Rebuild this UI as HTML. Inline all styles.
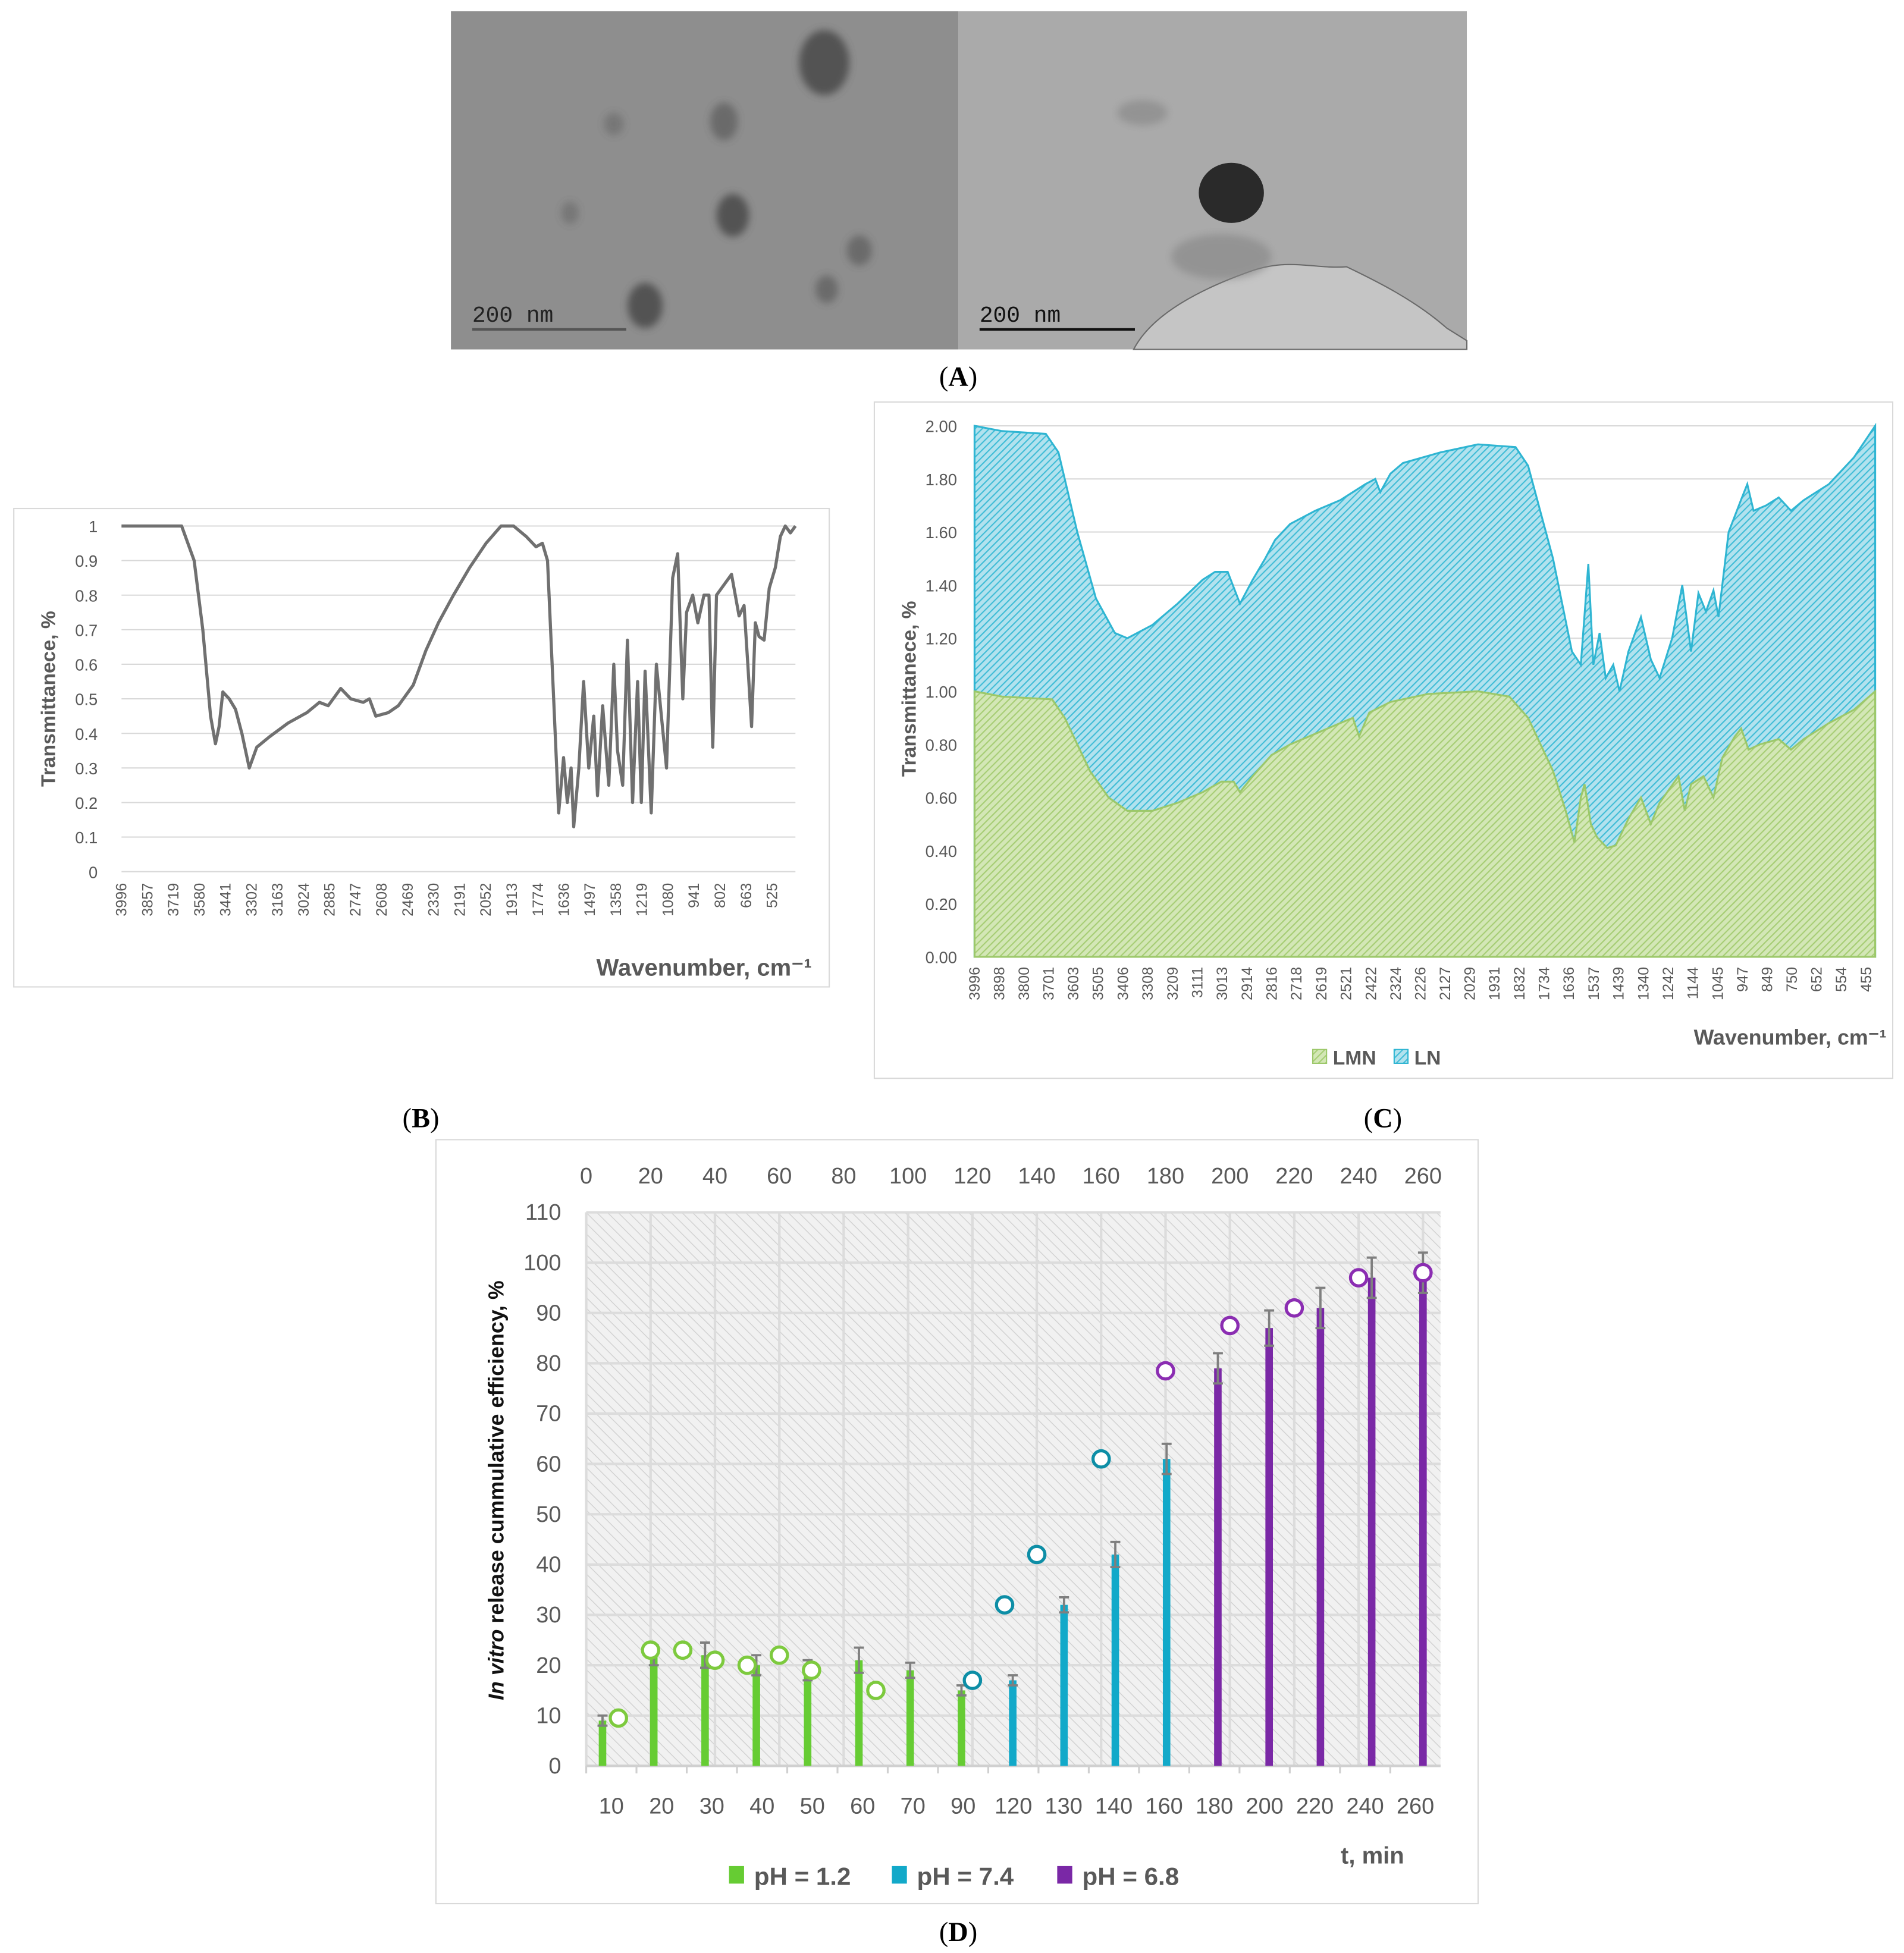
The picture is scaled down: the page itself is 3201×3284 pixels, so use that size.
<!DOCTYPE html>
<html><head><meta charset="utf-8"><style>
html,body{margin:0;padding:0;background:#fff;}
svg{display:block;}
</style></head><body>
<svg id="fig" width="3201" height="3284" viewBox="0 0 1520 1559.4" preserveAspectRatio="none" xmlns="http://www.w3.org/2000/svg" font-family="Liberation Sans, sans-serif">
<defs>
<pattern id="hatchG" width="4" height="4" patternUnits="userSpaceOnUse" patternTransform="rotate(45)"><rect width="4" height="4" fill="#d3e7b6"/><line x1="0" y1="0" x2="0" y2="4" stroke="#a6cd74" stroke-width="2"/></pattern>
<pattern id="hatchB" width="4" height="4" patternUnits="userSpaceOnUse" patternTransform="rotate(45)"><rect width="4" height="4" fill="#b2e2ee"/><line x1="0" y1="0" x2="0" y2="4" stroke="#3fbcd6" stroke-width="2"/></pattern>
<pattern id="hatchD" width="6" height="6" patternUnits="userSpaceOnUse" patternTransform="rotate(-45)"><rect width="6" height="6" fill="#f1f1f1"/><line x1="0" y1="0" x2="0" y2="6" stroke="#d2d2d2" stroke-width="1.4"/></pattern>
<filter id="blur3"><feGaussianBlur stdDeviation="3"/></filter>
</defs>

<!-- Panel A: TEM images -->
<g>
<rect x="360" y="9" width="405" height="270" fill="#8e8e8e"/>
<g filter="url(#blur3)" fill="#4a4a4a" opacity="0.85">
<ellipse cx="658" cy="50" rx="20" ry="26"/><ellipse cx="578" cy="97" rx="11" ry="15" opacity="0.6"/>
<ellipse cx="585" cy="172" rx="13" ry="17"/><ellipse cx="686" cy="200" rx="10" ry="12" opacity="0.6"/>
<ellipse cx="660" cy="231" rx="9" ry="11" opacity="0.6"/><ellipse cx="515" cy="244" rx="14" ry="18"/>
<ellipse cx="490" cy="99" rx="8" ry="9" opacity="0.4"/><ellipse cx="455" cy="170" rx="7" ry="9" opacity="0.4"/>
</g>
<line x1="377" y1="263" x2="500" y2="263" stroke="#555" stroke-width="2"/>
<text x="377" y="257" font-size="18" style="font-family:'Liberation Mono',monospace" fill="#222">200 nm</text>
<rect x="765" y="9" width="406" height="270" fill="#aaaaaa"/>
<path d="M905,279 C920,250 960,230 1000,216 C1030,206 1050,215 1075,213 C1100,225 1130,240 1155,262 L1171,272 L1171,279 Z" fill="#c5c5c5" stroke="#6a6a6a" stroke-width="1"/>
<g filter="url(#blur3)" fill="#8a8a8a" opacity="0.7"><ellipse cx="912" cy="90" rx="20" ry="10"/><ellipse cx="975" cy="205" rx="40" ry="18"/></g>
<ellipse cx="983" cy="154" rx="26" ry="24" fill="#2a2a2a"/>
<line x1="782" y1="263" x2="906" y2="263" stroke="#111" stroke-width="2"/>
<text x="782" y="257" font-size="18" style="font-family:'Liberation Mono',monospace" fill="#111">200 nm</text>
<text x="765" y="308" font-size="22" style="font-family:'Liberation Serif',serif" text-anchor="middle">(<tspan font-weight="bold">A</tspan>)</text>
</g>

<g id="panelB">
<rect x="11" y="406" width="651" height="382" fill="#fff" stroke="#d9d9d9"/>
</g>
<g id="panelC">
<rect x="698" y="321" width="813" height="540" fill="#fff" stroke="#d9d9d9"/>
</g>
<text x="336" y="900" font-size="22" style="font-family:'Liberation Serif',serif" text-anchor="middle">(<tspan font-weight="bold">B</tspan>)</text>
<text x="1104" y="900" font-size="22" style="font-family:'Liberation Serif',serif" text-anchor="middle">(<tspan font-weight="bold">C</tspan>)</text>

<g id="panelD">
<rect x="348" y="910" width="832" height="610" fill="#fff" stroke="#d9d9d9"/>
</g>
<text x="765" y="1550" font-size="22" style="font-family:'Liberation Serif',serif" text-anchor="middle">(<tspan font-weight="bold">D</tspan>)</text>
</svg>
<script>
const NS="http://www.w3.org/2000/svg";
function mk(parent,tag,attrs,txt){const e=document.createElementNS(NS,tag);for(const k in attrs)e.setAttribute(k,attrs[k]);if(txt!==undefined)e.textContent=txt;parent.appendChild(e);return e;}

// ---------- Chart B data ----------
const bWave=[3996,3775,3675,3608,3562,3521,3495,3475,3455,3421,3388,3354,3314,3274,3207,3107,3007,2940,2893,2826,2773,2706,2673,2639,2572,2519,2439,2372,2305,2225,2138,2051,1971,1904,1837,1784,1750,1723,1690,1663,1637,1617,1597,1583,1556,1530,1503,1476,1456,1429,1396,1369,1349,1322,1296,1269,1242,1222,1202,1169,1142,1115,1088,1055,1028,1001,981,948,921,888,861,841,821,781,741,701,674,654,634,614,594,567,540,507,480,454,427,400];
const bTrans=[1,1,1,0.9,0.7,0.45,0.37,0.42,0.52,0.5,0.47,0.4,0.3,0.36,0.39,0.43,0.46,0.49,0.48,0.53,0.5,0.49,0.5,0.45,0.46,0.48,0.54,0.64,0.72,0.8,0.88,0.95,1,1,0.97,0.94,0.95,0.9,0.5,0.17,0.33,0.2,0.3,0.13,0.3,0.55,0.3,0.45,0.22,0.48,0.25,0.6,0.35,0.25,0.67,0.2,0.55,0.2,0.58,0.17,0.6,0.45,0.3,0.85,0.92,0.5,0.75,0.8,0.72,0.8,0.8,0.36,0.8,0.83,0.86,0.74,0.77,0.6,0.42,0.72,0.68,0.67,0.82,0.88,0.97,1,0.98,1];
const bYTicks=[0,0.1,0.2,0.3,0.4,0.5,0.6,0.7,0.8,0.9,1];
const bXLabels=["3996","3857","3719","3580","3441","3302","3163","3024","2885","2747","2608","2469","2330","2191","2052","1913","1774","1636","1497","1358","1219","1080","941","802","663","525"];

// ---------- Chart C data ----------
const cLowWave=[3996,3887,3688,3638,3538,3464,3389,3290,3190,3091,3016,2967,2942,2892,2817,2743,2643,2544,2494,2469,2429,2345,2196,1997,1873,1798,1699,1649,1614,1589,1574,1549,1524,1484,1450,1400,1350,1311,1276,1201,1176,1151,1102,1062,1027,977,952,923,878,803,754,704,604,505,420];
const cLMN=[1.0,0.98,0.97,0.9,0.7,0.6,0.55,0.55,0.58,0.62,0.66,0.66,0.62,0.68,0.76,0.8,0.84,0.88,0.9,0.83,0.92,0.96,0.99,1.0,0.98,0.9,0.7,0.55,0.43,0.6,0.65,0.5,0.45,0.41,0.42,0.52,0.6,0.5,0.58,0.68,0.55,0.65,0.68,0.6,0.75,0.83,0.86,0.78,0.8,0.82,0.78,0.82,0.88,0.93,1.0];
const cTopWave=[3996,3887,3713,3663,3588,3514,3439,3389,3290,3190,3091,3041,2991,2942,2892,2842,2803,2743,2643,2544,2444,2405,2385,2345,2295,2146,1997,1848,1798,1699,1624,1589,1559,1539,1514,1490,1460,1435,1400,1350,1311,1276,1226,1186,1151,1122,1092,1062,1042,1002,953,928,903,853,803,754,704,604,505,420];
const cTotal=[2.0,1.98,1.97,1.9,1.6,1.35,1.22,1.2,1.25,1.33,1.42,1.45,1.45,1.33,1.42,1.5,1.57,1.63,1.68,1.72,1.78,1.8,1.75,1.82,1.86,1.9,1.93,1.92,1.85,1.5,1.15,1.1,1.48,1.1,1.22,1.05,1.1,1.0,1.15,1.28,1.12,1.05,1.2,1.4,1.15,1.37,1.3,1.38,1.28,1.6,1.72,1.78,1.68,1.7,1.73,1.68,1.72,1.78,1.88,2.0];
const cYTicks=[0,0.2,0.4,0.6,0.8,1.0,1.2,1.4,1.6,1.8,2.0];
const cXLabels=["3996","3898","3800","3701","3603","3505","3406","3308","3209","3111","3013","2914","2816","2718","2619","2521","2422","2324","2226","2127","2029","1931","1832","1734","1636","1537","1439","1340","1242","1144","1045","947","849","750","652","554","455"];

// ---------- Chart D data ----------
const dCategories=["10","20","30","40","50","60","70","90","120","130","140","160","180","200","220","240","260"];
const dBarValues=[9,22,22,20,19,21,19,15,17,32,42,61,79,87,91,97,98];
const dBarErrors=[1,2,2.5,2,2,2.5,1.5,1,1,1.5,2.5,3,3,3.5,4,4,4];
const dBarGroup=[0,0,0,0,0,0,0,0,1,1,1,1,2,2,2,2,2];
const dCircleT=[10,20,30,40,50,60,70,90,120,130,140,160,180,200,220,240,260];
const dCircleValues=[9.5,23,23,21,20,22,19,15,17,32,42,61,78.5,87.5,91,97,98];
const dTopTicks=[0,20,40,60,80,100,120,140,160,180,200,220,240,260];
const dYTicks=[0,10,20,30,40,50,60,70,80,90,100,110];
const dLegend=["pH = 1.2","pH = 7.4","pH = 6.8"];

// ===== Draw B =====
(function(){
const g=document.getElementById('panelB');
const x0=97,x1=635,yT=420,yB=696;
const xs=w=>x0+(3996-w)/(3996-400)*(x1-x0);
const ys=v=>yB-v*(yB-yT);
bYTicks.forEach(v=>{
 const l=mk(g,'line',{x1:x0,x2:x1,y1:ys(v),y2:ys(v),stroke:'#d9d9d9','stroke-width':1});
 
 
 const t=mk(g,'text',{x:78,y:ys(v)+5,'font-size':13,fill:'#595959','text-anchor':'end'},String(v));
 
 
});
bXLabels.forEach((s,i)=>{
 const x=xs(+s);
 const t=mk(g,'text',{x:x+4,y:705,'font-size':12,fill:'#595959','text-anchor':'end',transform:`rotate(-90 ${x+4} 705)`},s);
 
 
});
let d='';bWave.forEach((w,i)=>{d+=(i?'L':'M')+xs(w).toFixed(1)+','+ys(bTrans[i]).toFixed(1);});
const p=mk(g,'path',{d:d,fill:'none',stroke:'#707070','stroke-width':2.5,'stroke-linejoin':'round'});


const yt=mk(g,'text',{x:44,y:558,'font-size':16,'font-weight':'bold',fill:'#595959','text-anchor':'middle',transform:'rotate(-90 44 558)'},'Transmittanece, %');


const xt=mk(g,'text',{x:648,y:779,'font-size':19,'font-weight':'bold',fill:'#595959','text-anchor':'end'},'Wavenumber, cm⁻¹');


})();

// ===== Draw C =====
(function(){
const g=document.getElementById('panelC');
const x0=778,x1=1497,yT=340,yB=764;
const xs=w=>x0+(3996-w)/(3996-420)*(x1-x0);
const ys=v=>yB-v/2*(yB-yT);
cYTicks.forEach(v=>{
 const l=mk(g,'line',{x1:x0,x2:x1,y1:ys(v),y2:ys(v),stroke:'#d9d9d9','stroke-width':1});
 
 
 const t=mk(g,'text',{x:764,y:ys(v)+5,'font-size':13,fill:'#595959','text-anchor':'end'},v.toFixed(2));
 
 
});
let dt='M'+xs(cTopWave[0])+','+yB;cTopWave.forEach((w,i)=>{dt+='L'+xs(w).toFixed(1)+','+ys(cTotal[i]).toFixed(1);});dt+='L'+xs(cTopWave[cTopWave.length-1])+','+yB+'Z';
const a1=mk(g,'path',{d:dt,fill:'url(#hatchB)',stroke:'#2fb5d2','stroke-width':1.5});


let dl='M'+xs(cLowWave[0])+','+yB;cLowWave.forEach((w,i)=>{dl+='L'+xs(w).toFixed(1)+','+ys(cLMN[i]).toFixed(1);});dl+='L'+xs(cLowWave[cLowWave.length-1])+','+yB+'Z';
const a2=mk(g,'path',{d:dl,fill:'url(#hatchG)',stroke:'#9cc86a','stroke-width':1.5});


cXLabels.forEach(s=>{
 const x=xs(+s);
 const t=mk(g,'text',{x:x+4,y:772,'font-size':12,fill:'#595959','text-anchor':'end',transform:`rotate(-90 ${x+4} 772)`},s);
 
 
});
const yt=mk(g,'text',{x:731,y:550,'font-size':16,'font-weight':'bold',fill:'#595959','text-anchor':'middle',transform:'rotate(-90 731 550)'},'Transmittanece, %');


const xt=mk(g,'text',{x:1506,y:834,'font-size':17,'font-weight':'bold',fill:'#595959','text-anchor':'end'},'Wavenumber, cm⁻¹');


const lg=mk(g,'g',{});


mk(lg,'rect',{x:1048,y:838,width:11,height:11,fill:'url(#hatchG)',stroke:'#9cc86a'});
mk(lg,'text',{x:1064,y:850,'font-size':16,'font-weight':'bold',fill:'#595959'},'LMN');
mk(lg,'rect',{x:1113,y:838,width:11,height:11,fill:'url(#hatchB)',stroke:'#2fb5d2'});
mk(lg,'text',{x:1129,y:850,'font-size':16,'font-weight':'bold',fill:'#595959'},'LN');
})();

// ===== Draw D =====
(function(){
const g=document.getElementById('panelD');
const x0=468,x1=1150,yT=968,yB=1410;
const ys=v=>yB-v/110*(yB-yT);
const xt=t=>x0+t/260*(1136-x0);
const slot=(x1-x0)/dCategories.length;
const barX=i=>481+i*(1136-481)/(dCategories.length-1);
const colors=['#66cc33','#12a9c9','#7a28a6'];
const circ=['#7dca3e','#0d8ea6','#8b2db2'];
mk(g,'rect',{x:x0,y:yT,width:x1-x0,height:yB-yT,fill:'url(#hatchD)'});
dYTicks.forEach(v=>{
 const l=mk(g,'line',{x1:x0,x2:x1,y1:ys(v),y2:ys(v),stroke:'#dcdcdc','stroke-width':2});
 
 
 const t=mk(g,'text',{x:448,y:ys(v)+6,'font-size':18,fill:'#595959','text-anchor':'end'},String(v));
 
 
});
dTopTicks.forEach(v=>{
 const l=mk(g,'line',{x1:xt(v),x2:xt(v),y1:yT,y2:yB,stroke:'#dcdcdc','stroke-width':2});
 
 
 const t=mk(g,'text',{x:xt(v),y:945,'font-size':18,fill:'#595959','text-anchor':'middle'},String(v));
 
 
});
const ax=mk(g,'line',{x1:x0,x2:x1,y1:yB,y2:yB,stroke:'#d0d0d0','stroke-width':2});


dCategories.forEach((c,i)=>{
 const tk=mk(g,'line',{x1:x0+i*slot,x2:x0+i*slot,y1:yB,y2:yB+6,stroke:'#d0d0d0','stroke-width':1.5});
 
 
 const t=mk(g,'text',{x:x0+(i+0.5)*slot,y:1448,'font-size':18,fill:'#595959','text-anchor':'middle'},c);
 
 
});
dBarValues.forEach((v,i)=>{
 const x=barX(i);
 const b=mk(g,'rect',{x:x-3,y:ys(v),width:6,height:yB-ys(v),fill:colors[dBarGroup[i]]});
 
 
 const e=dBarErrors[i];
 const eb=mk(g,'path',{d:`M${x},${ys(v+e)}V${ys(v-e)}M${x-4},${ys(v+e)}H${x+4}M${x-4},${ys(v-e)}H${x+4}`,stroke:'#7f7f7f','stroke-width':1.8,fill:'none'});
 
 
});
dCircleValues.forEach((v,i)=>{
 const c=mk(g,'circle',{cx:xt(dCircleT[i]),cy:ys(v),r:6.5,fill:'#fff',stroke:circ[dBarGroup[i]],'stroke-width':2.5});
 
 
});
const yt=mk(g,'text',{x:402,y:1190,'font-size':17,'font-weight':'bold',fill:'#111','text-anchor':'middle',transform:'rotate(-90 402 1190)'});


mk(yt,'tspan',{'font-style':'italic'},'In vitro');
mk(yt,'tspan',{},' release cummulative efficiency, %');
const tt=mk(g,'text',{x:1121,y:1488,'font-size':19,'font-weight':'bold',fill:'#595959','text-anchor':'end'},'t, min');


const lx=[582,712,844];
dLegend.forEach((s,i)=>{
 const lg=mk(g,'g',{});
 
 
 mk(lg,'rect',{x:lx[i],y:1490,width:12,height:14,fill:colors[i]});
 mk(lg,'text',{x:lx[i]+20,y:1505,'font-size':20,'font-weight':'bold',fill:'#595959'},s);
});
})();
</script>
</body></html>
